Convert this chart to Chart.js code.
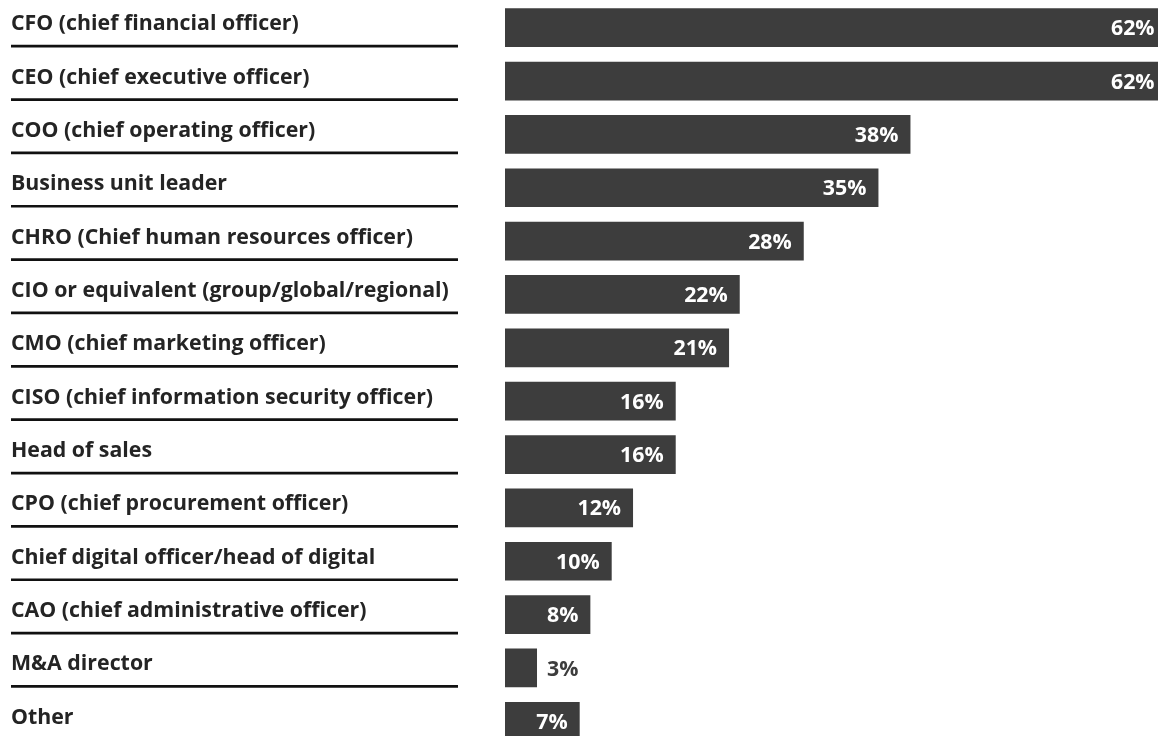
<!DOCTYPE html>
<html>
<head>
<meta charset="utf-8">
<script src="https://cdn.jsdelivr.net/npm/chart.js@4"></script>
<style>
  html, body { margin: 0; padding: 0; background: #ffffff; overflow: hidden; }
  #wrap { position: relative; width: 1158px; height: 748px; }
</style>
</head>
<body>
<div id="wrap"><canvas id="c"></canvas></div>
<script>
const categories = [
  "CFO (chief financial officer)",
  "CEO (chief executive officer)",
  "COO (chief operating officer)",
  "Business unit leader",
  "CHRO (Chief human resources officer)",
  "CIO or equivalent (group/global/regional)",
  "CMO (chief marketing officer)",
  "CISO (chief information security officer)",
  "Head of sales",
  "CPO (chief procurement officer)",
  "Chief digital officer/head of digital",
  "CAO (chief administrative officer)",
  "M&A director",
  "Other"
];
const values = [62, 62, 38, 35, 28, 22, 21, 16, 16, 12, 10, 8, 3, 7];
const valueLabels = ["62%", "62%", "38%", "35%", "28%", "22%", "21%", "16%", "16%", "12%", "10%", "8%", "3%", "7%"];

const BAR_COLOR = "#3d3d3d";
const TEXT_COLOR = "#242424";
const FONT = "'Open Sans', 'Noto Sans', sans-serif";

const labelPlugin = {
  id: "labelPlugin",
  afterDatasetsDraw(chart) {
    const ctx = chart.ctx;
    const meta = chart.getDatasetMeta(0);
    ctx.save();
    meta.data.forEach((bar, i) => {
      // category label on the left
      ctx.font = "bold 21.33px " + FONT;
      ctx.fillStyle = TEXT_COLOR;
      ctx.textAlign = "left";
      ctx.textBaseline = "alphabetic";
      ctx.fillText(categories[i], 11, bar.y + 2.5);
      // separator line
      if (i < meta.data.length - 1) {
        ctx.beginPath();
        ctx.strokeStyle = "#111111";
        ctx.lineWidth = 2.7;
        ctx.moveTo(11, bar.y + 18.5);
        ctx.lineTo(458, bar.y + 18.5);
        ctx.stroke();
      }
      // value label
      const txt = valueLabels[i];
      ctx.font = "bold 21.33px " + FONT;
      const w = ctx.measureText(txt).width;
      const barW = bar.x - bar.base;
      ctx.textBaseline = "middle";
      if (barW > w + 22) {
        ctx.fillStyle = "#ffffff";
        ctx.textAlign = "right";
        ctx.fillText(txt, bar.x - 12, bar.y + 1.5);
      } else {
        ctx.fillStyle = BAR_COLOR;
        ctx.textAlign = "left";
        ctx.fillText(txt, bar.x + 10, bar.y + 1.5);
      }
    });
    ctx.restore();
  }
};

new Chart(document.getElementById("c"), {
  type: "bar",
  data: {
    labels: categories,
    datasets: [{
      data: values,
      backgroundColor: BAR_COLOR,
      borderWidth: 0,
      categoryPercentage: 1,
      barPercentage: 0.725
    }]
  },
  options: {
    indexAxis: "y",
    responsive: true,
    maintainAspectRatio: false,
    animation: false,
    layout: { padding: { left: 505, right: 0, top: 1, bottom: 0 } },
    plugins: { legend: { display: false }, tooltip: { enabled: false } },
    scales: {
      x: { display: false, min: 0, max: 61.2 },
      y: { display: false }
    }
  },
  plugins: [labelPlugin]
});
</script>
</body>
</html>
